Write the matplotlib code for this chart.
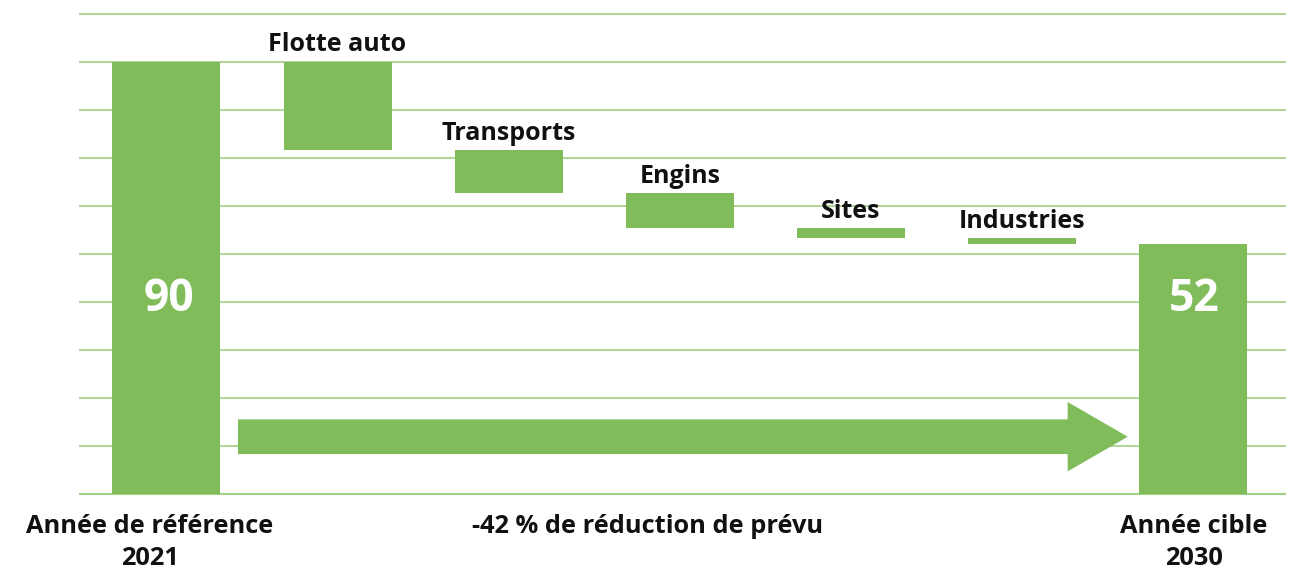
import matplotlib.pyplot as plt
from matplotlib.patches import FancyArrow

plt.rcParams['font.family'] = ['Open Sans', 'DejaVu Sans']

# waterfall data (t CO2e)
start_label = ["Année de référence", "2021"]
end_label = ["Année cible", "2030"]
start_value = 90
end_value = 52
steps = ["Flotte auto", "Transports", "Engins", "Sites", "Industries"]
reductions = [18.4, 9.0, 7.2, 2.2, 1.2]
middle_label = "-42 % de réduction de prévu"

green = "#80bd5a"
grid_green = "#a9d38e"
text_black = "#111111"

fig = plt.figure(figsize=(13, 5.71), dpi=100)
# axes box placed so that 0..100 spans the gridlines of the original
ax = fig.add_axes([79 / 1300, (571 - 498.3) / 571, (1286 - 79) / 1300, (498.3 - 8.7) / 571])
ax.set_xlim(-0.511, 6.543)
ax.set_ylim(-1, 101)

ax.set_yticks(range(0, 101, 10))
ax.yaxis.grid(True, color=grid_green, linewidth=1.3)
ax.set_axisbelow(True)
ax.axhline(0, color="#7cbf58", linewidth=1.5, zorder=0.5)
ax.tick_params(left=False, bottom=False, labelleft=False, labelbottom=False)
for s in ax.spines.values():
    s.set_visible(False)

width = 0.631
# start and end bars
ax.bar(0, start_value, width=width, color=green, zorder=2)
ax.bar(len(steps) + 1, end_value, width=width, color=green, zorder=2)

# floating bars for each reduction
level = start_value
for i, (name, red) in enumerate(zip(steps, reductions), start=1):
    ax.bar(i, red, bottom=level - red, width=width, color=green, zorder=2)
    ax.text(i, level + 2.1, name, ha="center", va="baseline", fontsize=18,
            fontweight="bold", color=text_black, zorder=3)
    level -= red

# values inside the big bars
for x, v in [(0.015, start_value), (len(steps) + 1.005, end_value)]:
    ax.text(x, 40.4, str(v), ha="center", va="center", fontsize=32,
            fontweight="bold", color="white", zorder=3)

# big arrow across the bottom
arrow_start, arrow_end = 0.418, 5.618
arrow = FancyArrow(arrow_start, 11.83, arrow_end - arrow_start, 0, width=7.23,
                   head_width=14.46, head_length=0.351, length_includes_head=True,
                   color=green, linewidth=0, zorder=2)
ax.add_patch(arrow)

# labels under the axis, one text per line
kw = dict(ha="center", va="baseline", fontsize=18.3, fontweight="bold",
          color=text_black, clip_on=False)
line_gap = 6.67
for x, lines in [(-0.096, start_label), (len(steps) + 1.005, end_label)]:
    for k, line in enumerate(lines):
        ax.text(x, -8.2 - k * line_gap, line, **kw)
ax.text(2.81, -8.2, middle_label, **kw)

fig.savefig("out.png", dpi=100)
